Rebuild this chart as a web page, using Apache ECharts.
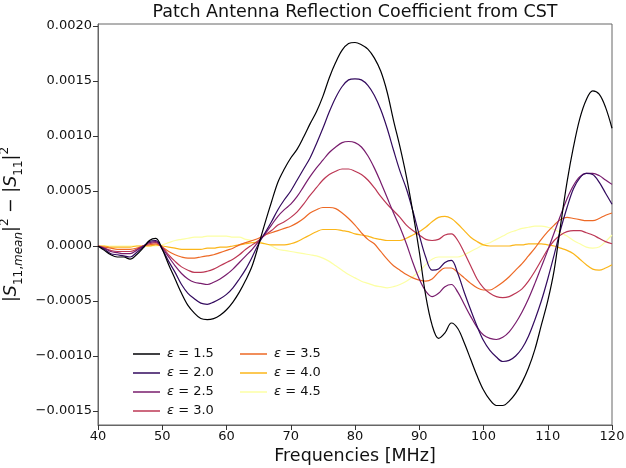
<!DOCTYPE html>
<html>
<head>
<meta charset="utf-8">
<script src="https://cdn.jsdelivr.net/npm/echarts@6/dist/echarts.min.js"></script>
<style>
  html, body { margin: 0; padding: 0; background: #fff; }
  #chart { width: 626px; height: 468px; }
</style>
</head>
<body>
<div id="chart"></div>
<script>
// frequencies in MHz
const freqs = [
  40, 41, 42, 43, 44, 45, 46, 47, 48, 49,
  50, 51, 52, 53, 54, 55, 56, 57, 58, 59,
  60, 61, 62, 63, 64, 65, 66, 67, 68, 69,
  70, 71, 72, 73, 74, 75, 76, 77, 78, 79,
  80, 81, 82, 83, 84, 85, 86, 87, 88, 89,
  90, 91, 92, 93, 94, 95, 96, 97, 98, 99,
  100, 101, 102, 103, 104, 105, 106, 107, 108, 109,
  110, 111, 112, 113, 114, 115, 116, 117, 118, 119,
  120
]

const eps15 = [
  0, -0.00004, -0.00008, -0.0001, -0.0001, -0.00012, -0.00008, -0.00002, 0.00005, 0.00007,
  -0.00003, -0.00017, -0.0003, -0.00043, -0.00054, -0.00061, -0.00066, -0.00067, -0.00066, -0.00063,
  -0.00058, -0.00051, -0.00042, -0.00031, -0.00018, 0.00001, 0.00021, 0.0004, 0.00058, 0.0007,
  0.0008, 0.00088, 0.00099, 0.00111, 0.00122, 0.00136, 0.00153, 0.00167, 0.00178, 0.00184,
  0.00185, 0.00183, 0.00179, 0.00171, 0.00159, 0.0014, 0.00114, 0.0009, 0.00063, 0.00031,
  -0.00005, -0.00045, -0.00072, -0.00084, -0.00079, -0.0007, -0.00075, -0.00088, -0.00103, -0.00118,
  -0.00131, -0.0014, -0.00145, -0.00145, -0.00141, -0.00134, -0.00124, -0.00111, -0.00094, -0.00072,
  -0.0005, -0.00022, 0.00019, 0.00058, 0.0009, 0.00116, 0.00133, 0.00141, 0.00138, 0.00126,
  0.00107
]

const eps20 = [
  0, -0.00003, -0.00007, -0.00008, -0.00009, -0.0001, -0.00006, -0.00001, 0.00004, 0.00005,
  -0.00003, -0.00014, -0.00024, -0.00035, -0.00043, -0.00048, -0.00052, -0.00053, -0.00051, -0.00048,
  -0.00044, -0.00038, -0.0003, -0.00021, -0.0001, 0.00002, 0.00012, 0.00022, 0.00033, 0.00042,
  0.0005, 0.0006, 0.0007, 0.0008, 0.00093, 0.00107, 0.00122, 0.00135, 0.00145, 0.00151,
  0.00152, 0.00151, 0.00146, 0.00137, 0.00124, 0.00107, 0.00087, 0.00068, 0.00052, 0.00032,
  0.0001, -0.0001, -0.00022, -0.00021, -0.00015, -0.00013, -0.00025, -0.00042, -0.00058, -0.00073,
  -0.00086, -0.00095, -0.00101, -0.00105, -0.00104, -0.001, -0.00093, -0.00082, -0.00067, -0.0005,
  -0.0003, -0.00008, 0.00015, 0.00035, 0.00052, 0.00062, 0.00066, 0.00065, 0.00058, 0.00048,
  0.00038
]

const eps25 = [
  0, -0.00002, -0.00005, -0.00006, -0.00007, -0.00007, -0.00004, 0, 0.00003, 0.00004,
  -0.00002, -0.0001, -0.00018, -0.00025, -0.0003, -0.00033, -0.00034, -0.00035, -0.00033, -0.0003,
  -0.00026, -0.00021, -0.00015, -0.00009, -0.00003, 0.00004, 0.00011, 0.00019, 0.00027, 0.00033,
  0.00038, 0.00045, 0.00054, 0.00063, 0.00071, 0.00078, 0.00085, 0.0009, 0.00094, 0.00095,
  0.00094, 0.0009, 0.00082, 0.00071, 0.00058, 0.00044, 0.0003, 0.00017, 0.00002, -0.00015,
  -0.0003, -0.00041, -0.00046, -0.00043, -0.00037, -0.00035, -0.00042, -0.00053, -0.00064, -0.00074,
  -0.00081, -0.00084, -0.00085, -0.00083, -0.00078, -0.0007, -0.0006, -0.00048, -0.00034, -0.00019,
  -0.00004, 0.00012, 0.00028, 0.00043, 0.00055, 0.00063, 0.00066, 0.00066, 0.00064, 0.0006,
  0.00056
]

const eps30 = [
  0, -0.00002, -0.00004, -0.00005, -0.00005, -0.00005, -0.00003, 0, 0.00002, 0.00003,
  -0.00001, -0.00008, -0.00014, -0.00019, -0.00022, -0.00024, -0.00024, -0.00023, -0.00021, -0.00018,
  -0.00015, -0.00012, -0.00008, -0.00003, 0.00001, 0.00005, 0.0001, 0.00014, 0.00019, 0.00022,
  0.00026, 0.00031, 0.00038, 0.00046, 0.00053, 0.0006, 0.00065, 0.00068, 0.0007, 0.0007,
  0.00068, 0.00065, 0.0006, 0.00053, 0.00045, 0.00038, 0.00032, 0.00026, 0.00019, 0.00014,
  0.0001, 0.00006, 0.00005, 0.00006, 0.0001, 0.00011, 0.00005, -0.00006, -0.00018, -0.0003,
  -0.00038, -0.00043, -0.00046, -0.00047, -0.00046, -0.00043, -0.00039, -0.00032, -0.00023, -0.00013,
  -0.00003, 0.00005, 0.0001, 0.00013, 0.00014, 0.00014, 0.00012, 0.0001, 0.00007, 0.00004,
  0.00002
]

const eps35 = [
  0, -0.00001, -0.00002, -0.00003, -0.00003, -0.00003, -0.00002, 0, 0.00001, 0.00002,
  -0.00001, -0.00005, -0.00008, -0.0001, -0.00011, -0.00011, -0.0001, -0.00009, -0.00008, -0.00006,
  -0.00004, -0.00002, 0.00001, 0.00003, 0.00005, 0.00007, 0.0001, 0.00012, 0.00014, 0.00016,
  0.00018, 0.00021, 0.00025, 0.0003, 0.00033, 0.00035, 0.00035, 0.00034, 0.0003, 0.00025,
  0.00019, 0.00012, 0.00006, 0.00002, -0.00005, -0.00012, -0.00018, -0.00022, -0.00026, -0.00029,
  -0.00031, -0.00032, -0.0003, -0.00024, -0.0002, -0.0002, -0.00024, -0.00029, -0.00034, -0.00038,
  -0.0004, -0.0004, -0.00037, -0.00033, -0.00028, -0.00022, -0.00016, -0.00009, -0.00002, 0.00006,
  0.00013, 0.00019, 0.00024, 0.00026, 0.00025, 0.00024, 0.00023, 0.00023, 0.00025, 0.00028,
  0.0003
]

const eps40 = [
  0, 0, -0.00001, -0.00001, -0.00001, -0.00001, 0, 0, 0, 0.00001,
  0, -0.00001, -0.00002, -0.00003, -0.00003, -0.00003, -0.00003, -0.00002, -0.00002, -0.00001,
  -0.00001, 0, 0.00001, 0.00002, 0.00003, 0.00003, 0.00002, 0.00001, 0.00001, 0.00001,
  0.00002, 0.00004, 0.00007, 0.0001, 0.00013, 0.00015, 0.00015, 0.00015, 0.00014, 0.00013,
  0.00011, 0.0001, 0.00009, 0.00007, 0.00006, 0.00005, 0.00005, 0.00005, 0.00007, 0.0001,
  0.00013, 0.00017, 0.00022, 0.00026, 0.00027, 0.00025, 0.0002, 0.00014, 0.00008, 0.00004,
  0.00001, 0, 0, 0, 0, 0.00001, 0.00001, 0.00002, 0.00002, 0.00002,
  0.00001, 0, -0.00002, -0.00004, -0.00007, -0.00012, -0.00017, -0.00021, -0.00022, -0.0002,
  -0.00017
]

const eps45 = [
  0, 0, 0, 0, 0, 0, 0, 0, 0, 0,
  0.00001, 0.00003, 0.00005, 0.00006, 0.00007, 0.00008, 0.00008, 0.00009, 0.00009, 0.00009,
  0.00009, 0.00008, 0.00008, 0.00006, 0.00005, 0.00004, 0.00002, 0, -0.00003, -0.00004,
  -0.00005, -0.00006, -0.00007, -0.00008, -0.00009, -0.00011, -0.00014, -0.00018, -0.00022, -0.00026,
  -0.00029, -0.00032, -0.00034, -0.00036, -0.00037, -0.00038, -0.00037, -0.00035, -0.00032, -0.00028,
  -0.00023, -0.00017, -0.00012, -0.0001, -0.0001, -0.0001, -0.0001, -0.00008, -0.00005, -0.00002,
  0.00001, 0.00003, 0.00006, 0.00009, 0.00012, 0.00014, 0.00016, 0.00017, 0.00018, 0.00018,
  0.00017, 0.00015, 0.00012, 0.00009, 0.00005, 0.00002, -0.00001, -0.00002, -0.00001, 0.00004,
  0.0001
]

const seriesNames = ['ε = 1.5', 'ε = 2.0', 'ε = 2.5', 'ε = 3.0', 'ε = 3.5', 'ε = 4.0', 'ε = 4.5']
const seriesValues = [eps15, eps20, eps25, eps30, eps35, eps40, eps45]
// inferno colormap, 7 steps
const colors = ['#000004', '#320a5e', '#781c6d', '#bc3754', '#ed6925', '#fbb61a', '#fcffa4']

const yTicks = [-0.0015, -0.001, -0.0005, 0, 0.0005, 0.001, 0.0015, 0.002]
const xTicks = [40, 50, 60, 70, 80, 90, 100, 110, 120]

const font = 'DejaVu Sans'

let myChart = echarts.init(document.getElementById('chart'), null, { renderer: 'canvas' })

const legendBase = {
    orient: 'vertical',
    icon: 'rect',
    itemWidth: 27,
    itemHeight: 1.5,
    itemGap: 5,
    padding: 0,
    textStyle: {
        fontFamily: font,
        fontSize: 13,
        color: '#111',
        lineHeight: 14,
        padding: [0, 0, 0, 2],
        rich: {
            i: { fontFamily: font, fontStyle: 'italic', fontSize: 13, color: '#111', lineHeight: 14 }
        }
    },
    formatter: name => '{i|ε}' + name.slice(1)
}

myChart.setOption({
    animation: false,
    color: colors,
    title: {
        text: 'Patch Antenna Reflection Coefficient from CST',
        left: 355,
        top: 3,
        padding: 0,
        textAlign: 'center',
        textStyle: {
            fontFamily: font,
            fontSize: 17.5,
            fontWeight: 'normal',
            color: '#111'
        }
    },
    legend: [
        Object.assign({}, legendBase, { data: seriesNames.slice(0, 4), left: 133, top: 347 }),
        Object.assign({}, legendBase, { data: seriesNames.slice(4), left: 240, top: 347 })
    ],
    grid: {
        left: 98,
        right: 14,
        top: 24,
        bottom: 43,
        show: true,
        borderColor: '#666',
        borderWidth: 1,
        outerBoundsMode: 'none',
        containLabel: false
    },
    xAxis: {
        type: 'value',
        min: 40,
        max: 120,
        interval: 10,
        name: 'Frequencies [MHz]',
        nameLocation: 'middle',
        nameGap: 22,
        nameTextStyle: { fontFamily: font, fontSize: 17.5, color: '#111', verticalAlign: 'top' },
        axisLine: { show: true, onZero: false, lineStyle: { color: '#666', width: 1 } },
        axisTick: { show: true, inside: false, length: 5, lineStyle: { color: '#333' }, customValues: xTicks },
        axisLabel: { fontFamily: font, fontSize: 13, color: '#111', margin: 5, customValues: xTicks },
        splitLine: { show: false }
    },
    yAxis: {
        type: 'value',
        min: -0.0016275,
        max: 0.002018,
        name: '{b||}{s|S}{sb|11,}{sbi|mean}{b||}{sp|2}{b| − |}{s|S}{sb|11}{b||}{sp|2}',
        nameLocation: 'middle',
        nameRotate: 90,
        nameGap: 64,
        nameTextStyle: {
            fontFamily: font,
            fontSize: 17.5,
            color: '#111',
            rich: {
                b: { fontFamily: font, fontSize: 17.5, color: '#111', lineHeight: 26 },
                s: { fontFamily: font, fontSize: 17.5, fontStyle: 'italic', color: '#111', lineHeight: 26 },
                sb: { fontFamily: font, fontSize: 12, color: '#111', verticalAlign: 'bottom', lineHeight: 12 },
                sbi: { fontFamily: font, fontSize: 12, fontStyle: 'italic', color: '#111', verticalAlign: 'bottom', lineHeight: 12 },
                sp: { fontFamily: font, fontSize: 12, color: '#111', verticalAlign: 'top', lineHeight: 12 }
            }
        },
        axisLine: { show: true, onZero: false, lineStyle: { color: '#666', width: 1 } },
        axisTick: { show: true, inside: false, length: 5, lineStyle: { color: '#333' }, customValues: yTicks },
        axisLabel: {
            fontFamily: font,
            fontSize: 13,
            color: '#111',
            margin: 6,
            customValues: yTicks,
            formatter: v => (v < 0 ? '−' : '') + Math.abs(v).toFixed(4)
        },
        splitLine: { show: false }
    },
    series: seriesValues.map((vals, k) => ({
        name: seriesNames[k],
        type: 'line',
        data: freqs.map((f, i) => [f, vals[i]]),
        smooth: 0.35,
        showSymbol: false,
        symbol: 'none',
        z: 10 - k,
        lineStyle: { width: 1.2, color: colors[k] },
        itemStyle: { color: colors[k] }
    }))
})
</script>
</body>
</html>
